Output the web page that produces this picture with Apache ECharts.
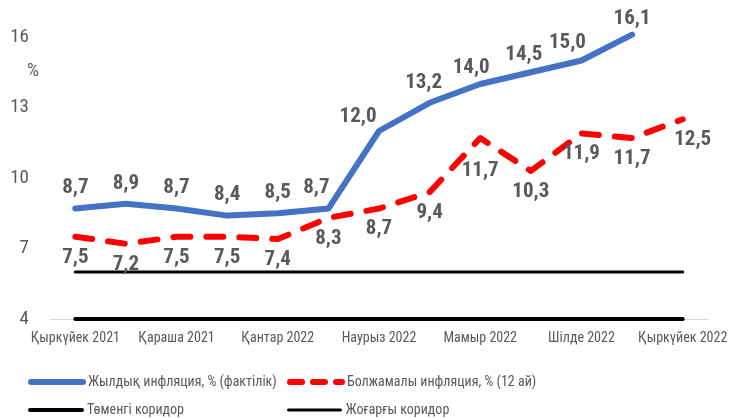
<!DOCTYPE html>
<html>
<head>
<meta charset="utf-8">
<script src="https://cdn.jsdelivr.net/npm/echarts@6/dist/echarts.min.js"></script>
<style>
  html, body { margin: 0; padding: 0; background: #fff; }
  #chart { width: 737px; height: 418px; }
</style>
</head>
<body>
<div id="chart"></div>
<script>
  // айлар (Қыркүйек 2021 - Қыркүйек 2022)
  const months = ['Қыркүйек 2021', 'Қазан 2021', 'Қараша 2021', 'Желтоқсан 2021', 'Қантар 2022', 'Ақпан 2022',
    'Наурыз 2022', 'Сәуір 2022', 'Мамыр 2022', 'Маусым 2022', 'Шілде 2022', 'Тамыз 2022', 'Қыркүйек 2022']
  // фактілік инфляция (тамызға дейін)
  const actual = [8.7, 8.9, 8.7, 8.4, 8.5, 8.7, 12.0, 13.2, 14.0, 14.5, 15.0, 16.1]
  // болжамалы инфляция
  const expected = [7.5, 7.2, 7.5, 7.5, 7.4, 8.3, 8.7, 9.4, 11.7, 10.3, 11.9, 11.7, 12.5]
  // коридор
  const lowerCorridor = [4, 4, 4, 4, 4, 4, 4, 4, 4, 4, 4, 4, 4]
  const upperCorridor = [6, 6, 6, 6, 6, 6, 6, 6, 6, 6, 6, 6, 6]
  const yTicks = [4, 7, 10, 13, 16]

  const names = ['Жылдық инфляция, % (фактілік)', 'Болжамалы инфляция, % (12 ай)', 'Төменгі коридор', 'Жоғарғы коридор']

  const FONT = "'Roboto Condensed', 'Open Sans Condensed', sans-serif"
  const GRAY = '#595959'

  const fmt = v => v.toFixed(1).replace('.', ',')

  // жазулардың қолмен жылжытуы (индекс -> [dx, dy])
  const actualShift = { 5: [-12, 0], 6: [-21, 6], 7: [-6, 0], 8: [-9, 4], 9: [-7, 3], 10: [-14, 3], 11: [0, 5] }
  const expectedShift = { 8: [0, 12], 12: [10, 0] }

  const chart = echarts.init(document.getElementById('chart'))

  // легенда: әр элемент өз орнында, белгісіз тек сызық
  const legendAt = (name, left, top, lineStyle) => ({
    data: [name],
    left: left,
    top: top,
    itemWidth: 52,
    itemHeight: 12,
    padding: 0,
    selectedMode: false,
    itemStyle: { opacity: 0 },
    lineStyle: lineStyle,
    textStyle: { fontFamily: FONT, fontSize: 14, color: GRAY }
  })

  const labelStyle = {
    show: true,
    distance: 10,
    formatter: p => fmt(p.value),
    fontFamily: FONT,
    fontSize: 21,
    fontWeight: 'bold',
    color: GRAY
  }

  const options = {
    animation: false,
    textStyle: { fontFamily: FONT },
    grid: { left: 50, right: 29, top: 37, bottom: 99 },
    xAxis: {
      type: 'category',
      data: months,
      boundaryGap: true,
      axisLine: { lineStyle: { color: '#D9D9D9', width: 1 } },
      axisTick: { interval: 0, length: 5, lineStyle: { color: '#D9D9D9' } },
      axisLabel: {
        interval: 1, showMinLabel: true, showMaxLabel: true, hideOverlap: false,
        fontFamily: FONT, fontSize: 14, color: GRAY, margin: 12
      }
    },
    yAxis: {
      type: 'value',
      min: yTicks[0],
      max: yTicks[yTicks.length - 1],
      interval: 3,
      splitLine: { show: false },
      axisLine: { show: false },
      axisTick: { show: false },
      axisLabel: { fontFamily: FONT, fontSize: 19, color: GRAY, margin: 21 }
    },
    graphic: [{
      type: 'text',
      left: 27,
      top: 62,
      style: { text: '%', fontFamily: FONT, fontSize: 19, fill: GRAY }
    }],
    legend: [
      legendAt(names[0], 28, 375, { width: 6, cap: 'round' }),
      legendAt(names[1], 287, 375, { width: 6, type: [12, 11], cap: 'round' }),
      legendAt(names[2], 28, 403, { width: 4, cap: 'round' }),
      legendAt(names[3], 287, 403, { width: 3, cap: 'round' })
    ],
    series: [
      {
        name: names[3],
        type: 'line',
        data: upperCorridor,
        symbol: 'none',
        lineStyle: { color: '#000', width: 3, cap: 'round' },
        itemStyle: { color: '#000' },
        z: 2
      },
      {
        name: names[2],
        type: 'line',
        data: lowerCorridor,
        symbol: 'none',
        lineStyle: { color: '#000', width: 4, cap: 'round' },
        itemStyle: { color: '#000' },
        z: 3
      },
      {
        name: names[1],
        type: 'line',
        clip: false,
        data: expected.map((v, i) => ({
          value: v,
          label: expectedShift[i] ? { offset: expectedShift[i] } : {}
        })),
        symbol: 'circle',
        symbolSize: 0,
        showSymbol: true,
        lineStyle: { color: '#FF0000', width: 6, type: [17, 16], cap: 'round', join: 'round' },
        itemStyle: { color: '#FF0000' },
        label: Object.assign({ position: 'bottom' }, labelStyle),
        z: 4
      },
      {
        name: names[0],
        type: 'line',
        clip: false,
        data: actual.map((v, i) => ({
          value: v,
          label: actualShift[i] ? { offset: actualShift[i] } : {}
        })),
        symbol: 'circle',
        symbolSize: 0,
        showSymbol: true,
        lineStyle: { color: '#4472C4', width: 6, cap: 'round', join: 'round' },
        itemStyle: { color: '#4472C4' },
        label: Object.assign({ position: 'top' }, labelStyle),
        z: 5
      }
    ]
  }

  chart.setOption(options)
</script>
</body>
</html>
